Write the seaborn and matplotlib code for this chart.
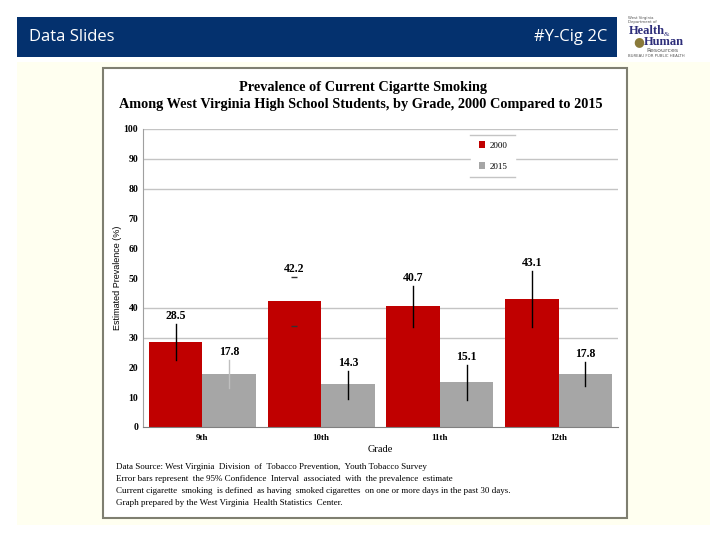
import seaborn as sns
import matplotlib.pyplot as plt
import matplotlib.patches as mpatches
from matplotlib.lines import Line2D
import pandas as pd

# values
grades = ["9th", "10th", "11th", "12th"]
years = ["2000", "2015"]
prev_2000 = [28.5, 42.2, 40.7, 43.1]
prev_2015 = [17.8, 14.3, 15.1, 17.8]
# 95% CI bounds (estimated from the error bars)
ci_low_2000 = [22.5, 33.9, 33.6, 33.6]
ci_high_2000 = [34.6, 50.3, 47.3, 52.3]
ci_low_2015 = [13.1, 9.4, 9.1, 13.8]
ci_high_2015 = [22.5, 18.8, 20.8, 21.8]
grid_lines = [30, 40, 80, 90, 100]

footnotes = [
    "Data Source: West Virginia  Division  of  Tobacco Prevention,  Youth Tobacco Survey",
    "Error bars represent  the 95% Confidence  Interval  associated  with  the prevalence  estimate",
    "Current cigarette  smoking  is defined  as having  smoked cigarettes  on one or more days in the past 30 days.",
    "Graph prepared by the West Virginia  Health Statistics  Center.",
]

df = pd.DataFrame({
    "Grade": grades * 2,
    "Year": [years[0]] * 4 + [years[1]] * 4,
    "Prevalence": prev_2000 + prev_2015,
})

W, H = 720, 540
serif = "Liberation Serif"

fig = plt.figure(figsize=(7.2, 5.4), dpi=100)
fig.patch.set_facecolor("white")

def box(x0, y0, x1, y1, **kw):
    # pixel coords (top-left origin) -> figure rectangle, kept behind the axes
    r = mpatches.Rectangle((x0 / W, 1 - y1 / H), (x1 - x0) / W, (y1 - y0) / H,
                           transform=fig.transFigure, zorder=-5, **kw)
    fig.patches.append(r)

# slide header + background
box(17, 17, 617, 57, facecolor="#04316E", edgecolor="none")
fig.text(29 / W, 1 - 37 / H, "Data Slides", color="white", fontsize=12,
         family="Open Sans", va="center")
fig.text(607 / W, 1 - 37 / H, "#Y-Cig 2C", color="white", fontsize=12,
         family="Open Sans", va="center", ha="right")
box(17, 62, 710, 525, facecolor="#FFFFF0", edgecolor="none")
box(103, 68, 627, 518, facecolor="white", edgecolor="#7F7F70", linewidth=1.5)

# logo (rough text version)
fig.text(628 / W, 1 - 20 / H, "West Virginia\nDepartment of", fontsize=2.8,
         color="#555555", va="center")
fig.text(629 / W, 1 - 31 / H, "Health", fontsize=9, color="#2E2E7A",
         family=serif, weight="bold", va="center")
fig.text(664 / W, 1 - 35 / H, "&", fontsize=5, color="#2E2E7A", family=serif, va="center")
fig.text(644 / W, 1 - 42 / H, "Human", fontsize=9, color="#2E2E7A",
         family=serif, weight="bold", va="center")
fig.text(633 / W, 1 - 42 / H, "\u25CF", fontsize=9, color="#8A7A3A", va="center")
fig.text(646 / W, 1 - 50 / H, "Resources", fontsize=4.5, color="#555555", va="center")
fig.text(628 / W, 1 - 56 / H, "BUREAU FOR PUBLIC HEALTH", fontsize=2.8,
         color="#555555", va="center")

# title
fig.text(363 / W, 1 - 87 / H, "Prevalence of Current Cigartte Smoking",
         ha="center", va="center", family=serif, weight="bold", fontsize=10.3)
fig.text(361 / W, 1 - 104 / H,
         "Among West Virginia High School Students, by Grade, 2000 Compared to 2015",
         ha="center", va="center", family=serif, weight="bold", fontsize=10.3)

ax = fig.add_axes([143 / W, 1 - 427 / H, (618 - 143) / W, (427 - 129) / H])
sns.barplot(data=df, x="Grade", y="Prevalence", hue="Year",
            palette=["#C00000", "#A6A6A6"], width=0.9, gap=0,
            saturation=1, errorbar=None, ax=ax, zorder=2)

for g in grid_lines:
    ax.axhline(g, color="#C4C4C4", linewidth=1, zorder=1)

lows = [ci_low_2000, ci_low_2015]
highs = [ci_high_2000, ci_high_2015]
vals = [prev_2000, prev_2015]
bar_colors = [["black", "none", "black", "black"],
              ["#BFBFBF", "black", "black", "black"]]
for k, cont in enumerate(ax.containers):
    for i, bar in enumerate(cont):
        xc = bar.get_x() + bar.get_width() / 2
        ax.plot([xc, xc], [lows[k][i], highs[k][i]], color=bar_colors[k][i],
                linewidth=1, zorder=3)
        if bar_colors[k][i] == "none":
            # only the end dashes are visible on this one
            ax.plot([xc, xc], [lows[k][i], highs[k][i]], ls="none", marker="_",
                    ms=4, mew=1, color="#333333", zorder=3)
        ax.text(xc, highs[k][i] + 0.8, f"{vals[k][i]:.1f}", ha="center",
                va="bottom", family=serif, weight="bold", fontsize=8.5)

ax.set_xlim(-0.5, 3.5)
ax.set_ylim(0, 100)
ax.set_yticks(range(0, 101, 10))
ax.tick_params(length=0, labelsize=7)
for lab in ax.get_xticklabels() + ax.get_yticklabels():
    lab.set_family(serif)
    lab.set_weight("bold")
ax.tick_params(axis="x", pad=5, labelsize=6.5)
ax.set_xlabel("Grade", family=serif, fontsize=7.5, labelpad=2)
ax.set_ylabel("Estimated Prevalence (%)", family="Liberation Sans", fontsize=6.5)
ax.yaxis.set_label_coords(-0.045, 0.5)
ax.set_facecolor("white")
for side in ["top", "right"]:
    ax.spines[side].set_visible(False)
ax.spines["left"].set_color("#A0A0A0")
ax.spines["bottom"].set_color("#808080")

leg = ax.legend(loc="center", bbox_to_anchor=(493 / W, 1 - 156 / H),
                bbox_transform=fig.transFigure, frameon=True, fancybox=False,
                prop={"family": serif, "size": 6.5}, handlelength=0.7,
                handleheight=0.7, handletextpad=0.5, labelspacing=1.4,
                borderpad=0.9)
leg.get_frame().set_edgecolor("white")
leg.get_frame().set_facecolor("white")
leg.get_frame().set_alpha(1)
leg.set_zorder(5)
# thin rules above and below the legend block
for yy in (135, 177):
    fig.lines.append(Line2D([470 / W, 515 / W], [1 - yy / H] * 2,
                            transform=fig.transFigure, color="#C4C4C4", lw=1))

for j, line in enumerate(footnotes):
    fig.text(116 / W, 1 - (467 + 12 * j) / H, line, family=serif, fontsize=6.5,
             va="center")

fig.savefig("out.png", dpi=100)
